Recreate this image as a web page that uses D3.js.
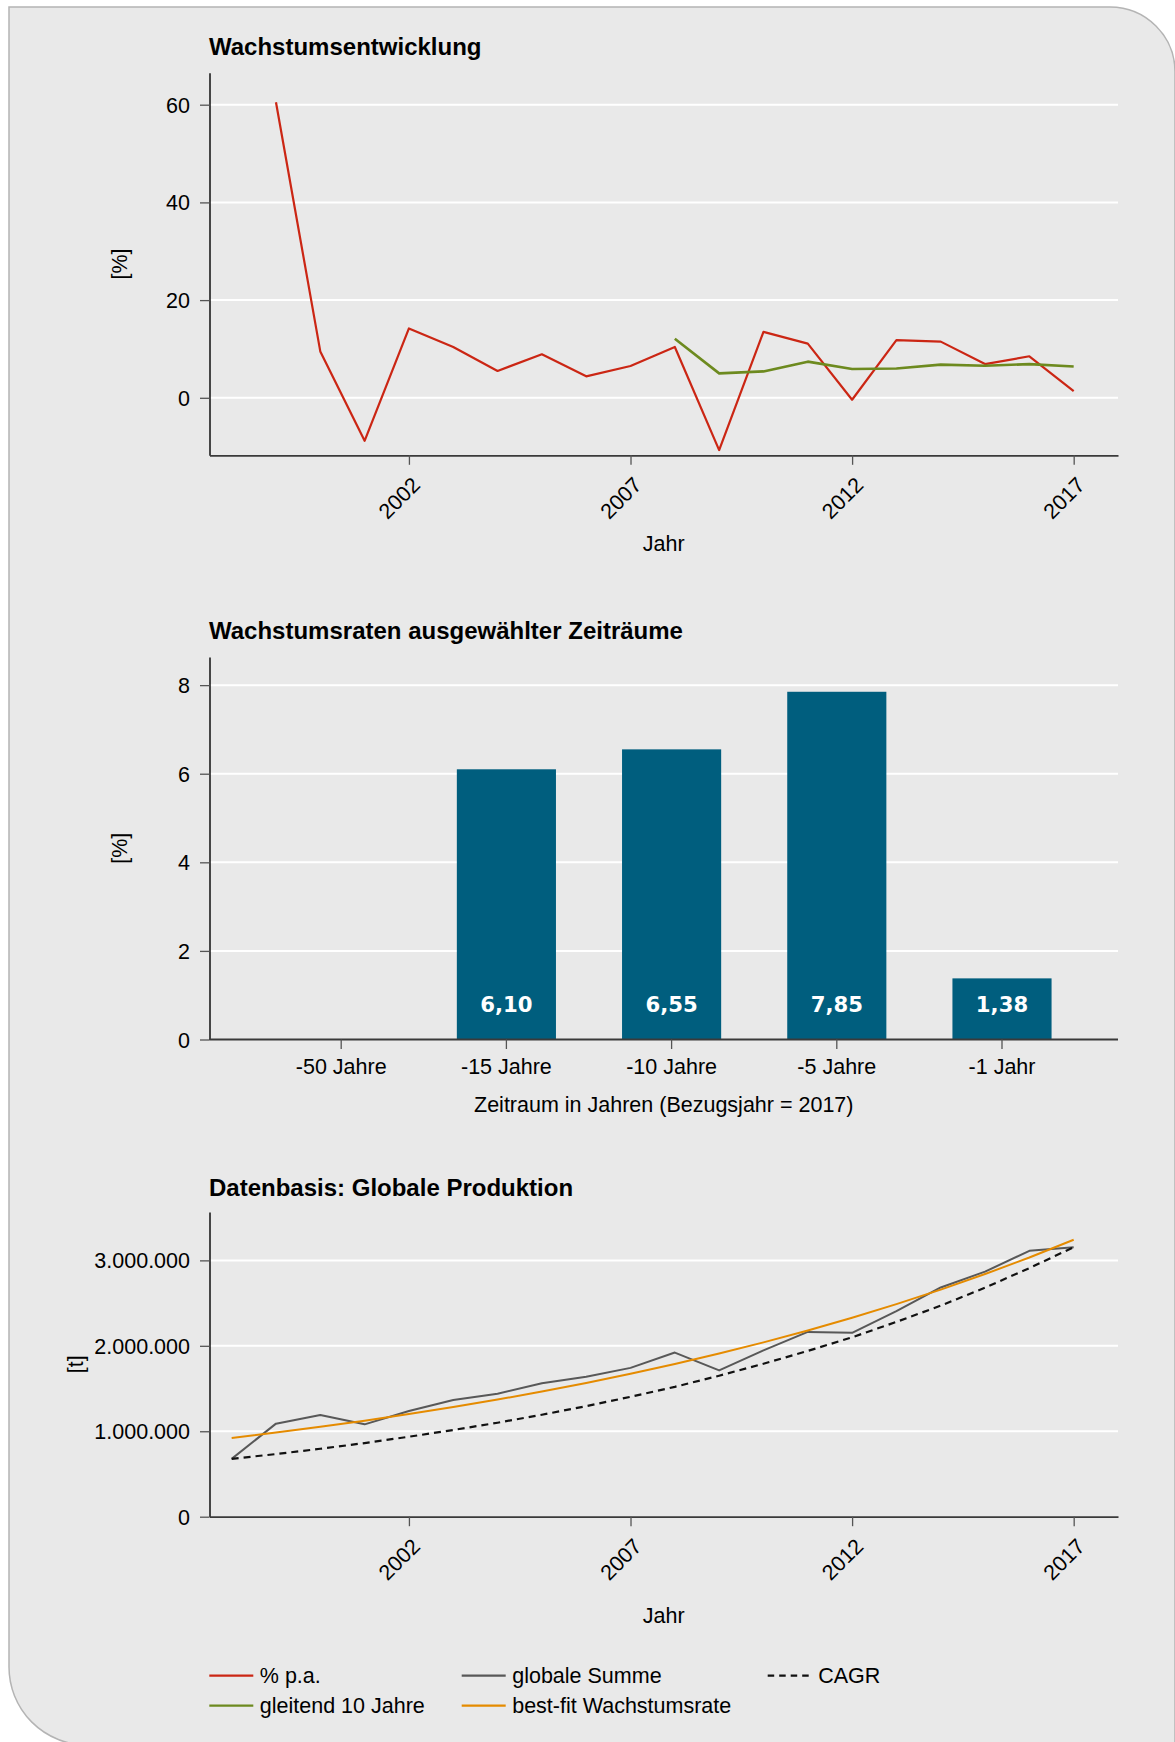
<!DOCTYPE html>
<html>
<head>
<meta charset="utf-8">
<script src="https://cdn.jsdelivr.net/npm/d3@7"></script>
<style>
  html, body { margin: 0; padding: 0; background: #ffffff; }
  svg { display: block; }
  text { font-family: "Liberation Sans", Arial, sans-serif; fill: #000; }
</style>
</head>
<body>
<svg id="chart" width="1175" height="1742"></svg>
<script>
// ---- data ----
const years = [1998, 1999, 2000, 2001, 2002, 2003, 2004, 2005, 2006, 2007,
               2008, 2009, 2010, 2011, 2012, 2013, 2014, 2015, 2016, 2017];

// growth per year [%]
const growthPA = [null, 60.5, 9.5, -8.8, 14.2, 10.4, 5.5, 8.9, 4.4, 6.5,
                  10.4, -10.7, 13.5, 11.1, -0.4, 11.8, 11.5, 6.9, 8.5, 1.38];
// rolling 10-year growth [%]
const rolling10 = [null, null, null, null, null, null, null, null, null, null,
                   12.1, 5.0, 5.4, 7.4, 5.9, 6.0, 6.8, 6.55, 6.9, 6.4];

// global production [t]
const globalSum = [677000, 1089000, 1190000, 1081000, 1237000, 1365000, 1440000, 1563000, 1637000, 1742000,
                   1921000, 1712000, 1947000, 2163000, 2152000, 2406000, 2683000, 2868000, 3112000, 3155000];
const cagrLine = [677000, 733000, 795000, 862000, 936000, 1015000, 1100000, 1193000, 1294000, 1403000,
                  1520000, 1650000, 1790000, 1940000, 2100000, 2280000, 2470000, 2680000, 2910000, 3155000];
const bestFit = [922000, 985000, 1052000, 1124000, 1201000, 1283000, 1371000, 1465000, 1565000, 1672000,
                 1787000, 1909000, 2040000, 2179000, 2328000, 2488000, 2658000, 2840000, 3034000, 3242000];

// growth rates for selected periods (reference year 2017) [%]
const periods = ["-50 Jahre", "-15 Jahre", "-10 Jahre", "-5 Jahre", "-1 Jahr"];
const periodRates = [null, 6.10, 6.55, 7.85, 1.38];

// tick values
const yearTicks = [2002, 2007, 2012, 2017];
const pctTicks = [0, 20, 40, 60];
const rateTicks = [0, 2, 4, 6, 8];
const prodTicks = [0, 1000000, 2000000, 3000000];

// ---- styling ----
const COL = {
  red: "#CB2614", green: "#6D8A1F", grey: "#585858", orange: "#E58B00",
  cagr: "#111111", bar: "#005E7E", bg: "#E9E9E9", grid: "#FFFFFF"
};
const FONT = 21.5;
const de = d3.formatLocale({ decimal: ",", thousands: ".", grouping: [3], currency: ["", " €"] });
const fmtThousands = de.format(",d");
const fmtRate = de.format(".2f");

const svg = d3.select("#chart");

// page frame with rounded top-right and bottom-left corners
svg.append("path")
  .attr("d", "M9,7 H1110 A65,65 0 0 1 1175,72 V1745 H87 A78,78 0 0 1 9,1667 Z")
  .attr("fill", COL.bg)
  .attr("stroke", "#B4B4B4")
  .attr("stroke-width", 1.5);

const X0 = 209.5, X1 = 1118;

// shared year scale for the two time-series panels
const x = d3.scaleLinear().domain([1997.5, 2018]).range([X0, X1]);

function styleAxis(g) {
  g.attr("font-family", '"Liberation Sans", Arial, sans-serif').attr("font-size", FONT);
  g.selectAll(".tick line").attr("stroke", "#555").attr("stroke-width", 1.3);
  g.selectAll(".tick text").attr("fill", "#000");
}

function drawGrid(y, ticks) {
  svg.append("g").selectAll("line").data(ticks).join("line")
    .attr("x1", X0).attr("x2", X1)
    .attr("y1", d => y(d)).attr("y2", d => y(d))
    .attr("stroke", COL.grid).attr("stroke-width", 2);
}

function drawYAxis(y, ticks, fmt) {
  const g = svg.append("g").attr("transform", `translate(${X0},0)`)
    .call(d3.axisLeft(y).tickValues(ticks).tickFormat(fmt).tickSize(9.5).tickSizeOuter(0).tickPadding(10));
  styleAxis(g);
  g.select(".domain").attr("stroke", "#000").attr("stroke-width", 1.4);
  g.selectAll(".tick text").attr("dy", "0.35em");
}

function drawYearAxis(axisY) {
  const g = svg.append("g").attr("transform", `translate(0,${axisY})`)
    .call(d3.axisBottom(x).tickValues(yearTicks).tickFormat(d3.format("d")).tickSize(9.5).tickSizeOuter(0));
  styleAxis(g);
  g.select(".domain").attr("stroke", "#3a3a3a").attr("stroke-width", 1.8);
  g.selectAll(".tick text")
    .attr("x", 12).attr("y", 31).attr("dy", 0)
    .attr("text-anchor", "end")
    .attr("transform", "rotate(-45,12,31)");
}

function title(txt, yBase) {
  svg.append("text").attr("x", 209).attr("y", yBase)
    .attr("font-size", 24).attr("font-weight", "bold").text(txt);
}

function yTitle(txt, cx, cy) {
  svg.append("text").attr("transform", `translate(${cx},${cy}) rotate(-90)`)
    .attr("text-anchor", "middle").attr("dy", "0.35em")
    .attr("font-size", FONT).text(txt);
}

function xTitle(txt, yBase) {
  svg.append("text").attr("x", (X0 + X1) / 2).attr("y", yBase)
    .attr("text-anchor", "middle").attr("font-size", FONT).text(txt);
}

// ---- panel 1: Wachstumsentwicklung ----
{
  const top = 72.7, bottom = 455.3;
  const all = growthPA.concat(rolling10).filter(v => v != null);
  const y = d3.scaleLinear().domain([d3.min(all) * 1.1, d3.max(all) * 1.1]).range([bottom, top]);
  title("Wachstumsentwicklung", 55);
  drawGrid(y, pctTicks);
  const line = d3.line().defined(d => d[1] != null).x(d => x(d[0])).y(d => y(d[1]));
  svg.append("path").datum(years.map((yr, i) => [yr, growthPA[i]]))
    .attr("d", line).attr("fill", "none").attr("stroke", COL.red)
    .attr("stroke-width", 2.2).attr("stroke-linejoin", "round");
  svg.append("path").datum(years.map((yr, i) => [yr, rolling10[i]]))
    .attr("d", line).attr("fill", "none").attr("stroke", COL.green)
    .attr("stroke-width", 2.6).attr("stroke-linejoin", "round");
  drawYAxis(y, pctTicks, d3.format("d"));
  drawYearAxis(bottom);
  yTitle("[%]", 119, (top + bottom) / 2);
  xTitle("Jahr", 551);
}

// ---- panel 2: Wachstumsraten ausgewählter Zeiträume ----
{
  const top = 657, bottom = 1039.5;
  const y = d3.scaleLinear().domain([0, d3.max(periodRates) * 1.1]).range([bottom, top]);
  const xb = d3.scaleBand().domain(periods).range([258.6, 1084.6]).paddingInner(0.4).paddingOuter(0.2);
  title("Wachstumsraten ausgewählter Zeiträume", 639);
  drawGrid(y, rateTicks.filter(d => d > 0));
  const bars = periods.map((p, i) => ({ p, v: periodRates[i] })).filter(d => d.v != null);
  svg.append("g").selectAll("rect").data(bars).join("rect")
    .attr("x", d => xb(d.p)).attr("width", xb.bandwidth())
    .attr("y", d => y(d.v)).attr("height", d => y(0) - y(d.v))
    .attr("fill", COL.bar);
  svg.append("g").selectAll("text").data(bars).join("text")
    .attr("x", d => xb(d.p) + xb.bandwidth() / 2).attr("y", 1011.7)
    .attr("text-anchor", "middle")
    .style("font-family", '"DejaVu Sans", sans-serif')
    .attr("font-weight", "bold").attr("font-size", 21.2)
    .style("fill", "#ffffff")
    .text(d => fmtRate(d.v));
  drawYAxis(y, rateTicks, d3.format("d"));
  const g = svg.append("g").attr("transform", `translate(0,${bottom})`)
    .call(d3.axisBottom(xb).tickSize(9.5).tickSizeOuter(0));
  styleAxis(g);
  g.select(".domain").attr("d", `M${X0},0H${X1}`).attr("stroke", "#3a3a3a").attr("stroke-width", 1.8);
  g.selectAll(".tick text").attr("y", 34).attr("dy", 0);
  yTitle("[%]", 119, (top + bottom) / 2);
  xTitle("Zeitraum in Jahren (Bezugsjahr = 2017)", 1111.7);
}

// ---- panel 3: Datenbasis: Globale Produktion ----
{
  const top = 1212, bottom = 1516.7;
  const all = globalSum.concat(cagrLine, bestFit);
  const y = d3.scaleLinear().domain([0, d3.max(all) * 1.1]).range([bottom, top]);
  title("Datenbasis: Globale Produktion", 1196);
  drawGrid(y, prodTicks.filter(d => d > 0));
  const line = d3.line().x(d => x(d[0])).y(d => y(d[1]));
  svg.append("path").datum(years.map((yr, i) => [yr, globalSum[i]]))
    .attr("d", line).attr("fill", "none").attr("stroke", COL.grey)
    .attr("stroke-width", 2).attr("stroke-linejoin", "round");
  svg.append("path").datum(years.map((yr, i) => [yr, cagrLine[i]]))
    .attr("d", line).attr("fill", "none").attr("stroke", COL.cagr)
    .attr("stroke-width", 2.2).attr("stroke-dasharray", "7,5");
  svg.append("path").datum(years.map((yr, i) => [yr, bestFit[i]]))
    .attr("d", line).attr("fill", "none").attr("stroke", COL.orange)
    .attr("stroke-width", 2).attr("stroke-linejoin", "round");
  drawYAxis(y, prodTicks, fmtThousands);
  drawYearAxis(bottom);
  yTitle("[t]", 75, (top + bottom) / 2);
  xTitle("Jahr", 1623);
}

// ---- legend ----
const legendItems = [
  { label: "% p.a.", color: COL.red, dash: null, x: 209.3, row: 0 },
  { label: "gleitend 10 Jahre", color: COL.green, dash: null, x: 209.3, row: 1 },
  { label: "globale Summe", color: COL.grey, dash: null, x: 461.7, row: 0 },
  { label: "best-fit Wachstumsrate", color: COL.orange, dash: null, x: 461.7, row: 1 },
  { label: "CAGR", color: COL.cagr, dash: "6.5,5", x: 767.7, row: 0 }
];
const lg = svg.append("g").selectAll("g").data(legendItems).join("g")
  .attr("transform", d => `translate(${d.x},${1675.7 + d.row * 30})`);
lg.append("line").attr("x1", 0).attr("x2", 44).attr("y1", 0).attr("y2", 0)
  .attr("stroke", d => d.color).attr("stroke-width", 2.2)
  .attr("stroke-dasharray", d => d.dash);
lg.append("text").attr("x", 50.5).attr("y", 7.6)
  .attr("font-size", FONT).text(d => d.label);
</script>
</body>
</html>
